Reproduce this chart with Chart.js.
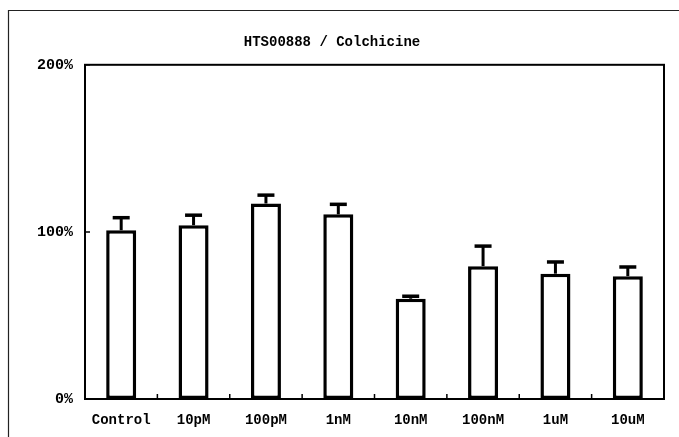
<!DOCTYPE html>
<html>
<head>
<meta charset="utf-8">
<script src="https://cdn.jsdelivr.net/npm/chart.js@4"></script>
<style>
  html, body { margin: 0; padding: 0; background: #fff; }
  #wrap { width: 679px; height: 437px; }
</style>
</head>
<body>
<div id="wrap"><canvas id="c" width="679" height="437"></canvas></div>
<script>
// Cell viability relative to control (%)
const categories = ['Control', '10pM', '100pM', '1nM', '10nM', '100nM', '1uM', '10uM'];
const viability = [101, 104, 117, 110.5, 60, 79.5, 75, 73.5];
const errorUp = [7.5, 6, 5, 6, 1.5, 12, 7, 5.5];
const yTicks = [0, 100, 200];
const yTickLabels = ['0%', '100%', '200%'];

const FONT = "'Liberation Mono', 'DejaVu Sans Mono', monospace";

// Outer frame, plot box, inward tick marks and error bars
const decorations = {
  id: 'decorations',
  beforeDraw(chart) {
    const ctx = chart.ctx;
    ctx.save();
    ctx.strokeStyle = '#222';
    ctx.lineWidth = 1.2;
    ctx.beginPath();
    ctx.moveTo(8.5, 470);
    ctx.lineTo(8.5, 10.5);
    ctx.lineTo(700, 10.5);
    ctx.stroke();
    ctx.restore();
  },
  afterDatasetsDraw(chart) {
    const ctx = chart.ctx;
    const area = chart.chartArea;
    const x = chart.scales.x, y = chart.scales.y;
    ctx.save();
    ctx.strokeStyle = '#000';
    // error bars
    const meta = chart.getDatasetMeta(0);
    meta.data.forEach((bar, i) => {
      const yBar = y.getPixelForValue(viability[i]);
      const yTop = y.getPixelForValue(viability[i] + errorUp[i]);
      ctx.lineWidth = 3;
      ctx.beginPath();
      ctx.moveTo(bar.x, yBar);
      ctx.lineTo(bar.x, yTop);
      ctx.stroke();
      ctx.lineWidth = 3.5;
      ctx.beginPath();
      ctx.moveTo(bar.x - 8.5, yTop);
      ctx.lineTo(bar.x + 8.5, yTop);
      ctx.stroke();
    });
    // plot box
    ctx.lineWidth = 2;
    ctx.strokeRect(area.left, area.top, area.right - area.left, area.bottom - area.top);
    // inward ticks
    ctx.lineWidth = 1.5;
    ctx.beginPath();
    yTicks.forEach(v => {
      const py = y.getPixelForValue(v);
      ctx.moveTo(area.left, py);
      ctx.lineTo(area.left + 5, py);
    });
    for (let i = 1; i < categories.length; i++) {
      const px = (x.getPixelForValue(i - 1) + x.getPixelForValue(i)) / 2;
      ctx.moveTo(px, area.bottom);
      ctx.lineTo(px, area.bottom - 5);
    }
    ctx.stroke();
    ctx.restore();
  }
};

new Chart(document.getElementById('c'), {
  type: 'bar',
  data: {
    labels: categories,
    datasets: [{
      data: viability,
      backgroundColor: '#fff',
      borderColor: '#000',
      borderWidth: 3.5,
      borderSkipped: false,
      categoryPercentage: 1,
      barPercentage: 0.415
    }]
  },
  options: {
    responsive: false,
    animation: false,
    layout: { padding: { left: 0, right: 15, top: 0, bottom: 0 } },
    plugins: {
      legend: { display: false },
      tooltip: { enabled: false },
      title: {
        display: true,
        text: 'HTS00888 / Colchicine',
        color: '#000',
        font: { family: FONT, size: 14, weight: 'bold', lineHeight: 1.2 },
        padding: { top: 34, bottom: 14 }
      }
    },
    scales: {
      x: {
        offset: true,
        grid: { display: false, drawTicks: false },
        border: { display: true, color: '#000', width: 2 },
        ticks: { color: '#000', font: { family: FONT, size: 14, weight: 'bold' }, padding: 13, maxRotation: 0 },
        afterFit(s) { s.height = 38; }
      },
      y: {
        min: 0,
        max: 200,
        afterBuildTicks(s) { s.ticks = yTicks.map(v => ({ value: v })); },
        grid: { display: false, drawTicks: false },
        border: { display: true, color: '#000', width: 2 },
        ticks: {
          color: '#000',
          font: { family: FONT, size: 15, weight: 'bold' },
          padding: 12,
          callback: (v) => yTickLabels[yTicks.indexOf(v)]
        },
        afterFit(s) { s.width = 85; }
      }
    }
  },
  plugins: [decorations]
});
</script>
</body>
</html>
